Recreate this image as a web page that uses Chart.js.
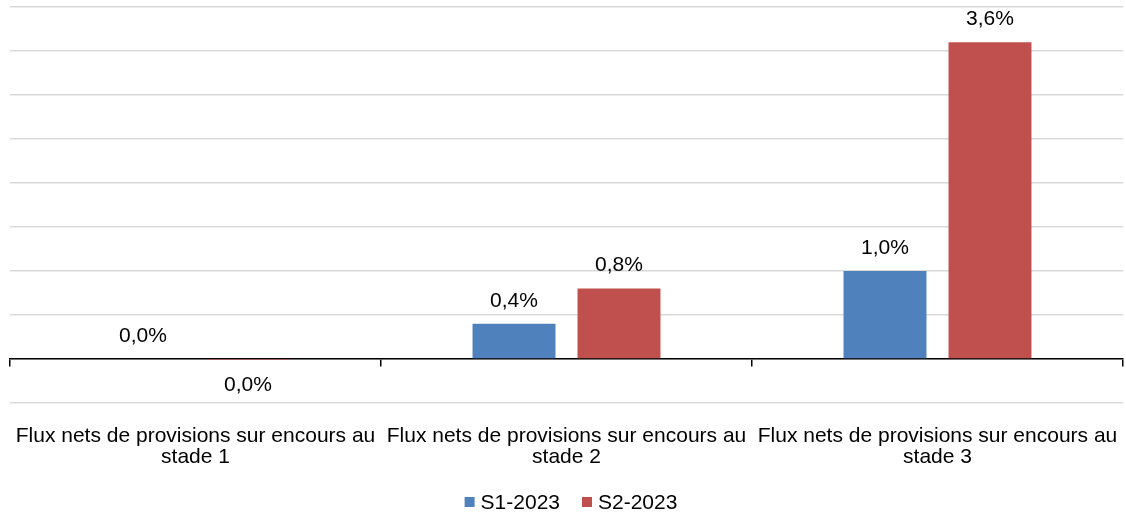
<!DOCTYPE html>
<html>
<head>
<meta charset="utf-8">
<script src="https://cdn.jsdelivr.net/npm/chart.js@4"></script>
<style>
  html, body { margin: 0; padding: 0; background: #fff; }
  #wrap { width: 1126px; height: 513px; }
</style>
</head>
<body>
<div id="wrap"><canvas id="c" width="1126" height="513"></canvas></div>
<script>
// Net provision flows as a share of outstandings, by IFRS 9 stage
const categories = [
  ["Flux nets de provisions sur encours au", "stade 1"],
  ["Flux nets de provisions sur encours au", "stade 2"],
  ["Flux nets de provisions sur encours au", "stade 3"]
];
const seriesNames = ["S1-2023", "S2-2023"];
const s1Values = [0.0, 0.4, 1.0];
const s2Values = [-0.004, 0.8, 3.6];
const seriesColors = ["#4F81BD", "#C0504D"];

const FONT = "'Liberation Sans', Arial, sans-serif";
const FONT_SIZE = 21;

function fmtPct(v) {
  let s = v.toFixed(1);
  if (parseFloat(s) === 0) s = "0.0";
  return s.replace(".", ",") + "%";
}

// Value labels above positive bars, below negative ones
const valueLabels = {
  id: "valueLabels",
  afterDatasetsDraw(chart) {
    const ctx = chart.ctx;
    ctx.save();
    ctx.font = FONT_SIZE + "px " + FONT;
    ctx.fillStyle = "#000";
    ctx.textAlign = "center";
    ctx.textBaseline = "middle";
    chart.data.datasets.forEach((ds, i) => {
      const meta = chart.getDatasetMeta(i);
      meta.data.forEach((bar, j) => {
        const v = ds.data[j];
        const y = v < 0 ? bar.y + 26 : bar.y - 23;
        ctx.fillText(fmtPct(v), bar.x, y);
      });
    });
    ctx.restore();
  }
};

// Legend row centred under the plot
const bottomLegend = {
  id: "bottomLegend",
  afterDraw(chart) {
    const ctx = chart.ctx;
    const box = 10, gap = 6, itemGap = 22;
    ctx.save();
    ctx.font = FONT_SIZE + "px " + FONT;
    ctx.textBaseline = "middle";
    ctx.textAlign = "left";
    const widths = chart.data.datasets.map(d => box + gap + ctx.measureText(d.label).width);
    const total = widths.reduce((a, b) => a + b, 0) + itemGap * (widths.length - 1);
    let x = chart.width / 2 + 8 - total / 2;
    const y = 502;
    chart.data.datasets.forEach((d, i) => {
      ctx.fillStyle = d.backgroundColor;
      ctx.fillRect(x, y - box / 2, box, box);
      ctx.fillStyle = "#000";
      ctx.fillText(d.label, x + box + gap, y + 1);
      x += widths[i] + itemGap;
    });
    ctx.restore();
  }
};

new Chart(document.getElementById("c"), {
  type: "bar",
  data: {
    labels: categories,
    datasets: [
      { label: seriesNames[0], data: s1Values, backgroundColor: seriesColors[0] },
      { label: seriesNames[1], data: s2Values, backgroundColor: seriesColors[1] }
    ]
  },
  options: {
    responsive: false,
    animation: false,
    categoryPercentage: 0.566,
    barPercentage: 0.79,
    layout: { padding: { left: 10, right: 3, top: 7, bottom: 110 } },
    plugins: {
      legend: { display: false },
      tooltip: { enabled: false }
    },
    scales: {
      x: {
        position: { y: 0 },
        grid: {
          offset: true,
          drawOnChartArea: false,
          drawTicks: true,
          tickLength: 7,
          color: "#000",
          lineWidth: 1.5
        },
        border: { display: true, color: "#000", width: 1.5 },
        ticks: {
          font: { family: FONT, size: FONT_SIZE, lineHeight: 1.0 },
          color: "#000",
          padding: 60,
          maxRotation: 0,
          autoSkip: false
        },
        afterFit(scale) { scale.paddingLeft = 0; scale.paddingRight = 0; }
      },
      y: {
        min: -0.5,
        max: 4.0,
        ticks: { display: false, stepSize: 0.5 },
        grid: {
          color: "#d9d9d9",
          lineWidth: 1.5,
          drawTicks: false
        },
        border: { display: false },
        afterFit(scale) { scale.width = 0; }
      }
    }
  },
  plugins: [valueLabels, bottomLegend]
});
</script>
</body>
</html>
